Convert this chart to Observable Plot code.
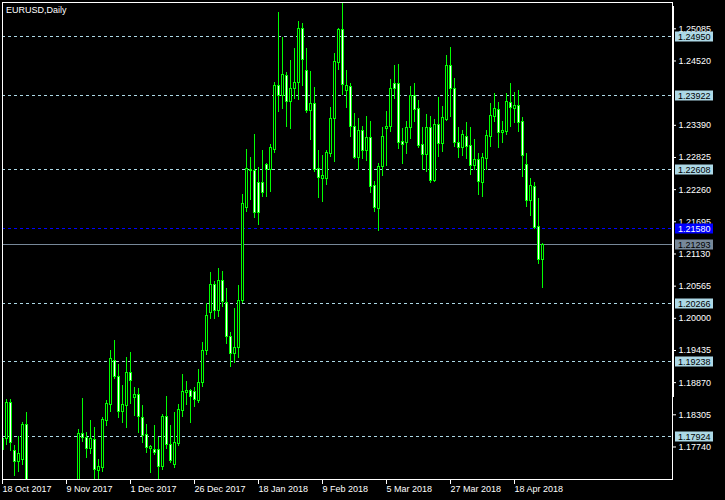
<!DOCTYPE html>
<html><head><meta charset="utf-8">
<script src="https://cdn.jsdelivr.net/npm/d3@7"></script>
<script src="https://cdn.jsdelivr.net/npm/@observablehq/plot@0.6"></script>
<style>
html,body{margin:0;padding:0;background:#000;}
#chart svg{display:block}
</style></head><body>
<div id="chart"></div>
<script>
const symbolTitle = "EURUSD,Daily";

// Daily OHLC, one bar per trading day starting 18 Oct 2017 (index 0) to 27 Apr 2018 (index 135)
const open = [1.17683,1.17877,1.18509,1.17666,1.17473,1.17508,1.18122,1.1652,1.1607,1.1648,
1.1645,1.1620,1.1660,1.1607,1.1609,1.1586,1.1592,1.1646,1.1665,1.1664,
1.17964,1.17894,1.17701,1.17859,1.17314,1.17367,1.18193,1.18474,1.19247,1.18966,
1.18351,1.18456,1.19036,1.18597,1.18649,1.18245,1.17947,1.17701,1.17683,1.17683,
1.17385,1.18263,1.17771,1.17420,1.17789,1.18368,1.18685,1.18720,1.18702,1.18544,
1.18860,1.19422,1.20090,1.20582,1.20125,1.20652,1.20265,1.19668,1.19370,1.19475,
1.20301,1.21934,1.22601,1.22584,1.22373,1.22373,1.22689,1.22601,1.22953,1.24077,
1.23901,1.24253,1.23796,1.24024,1.24130,1.25078,1.24340,1.23638,1.23761,1.22619,
1.22443,1.22443,1.22883,1.23497,1.24481,1.25061,1.23989,1.24059,1.23357,1.22812,
1.23287,1.22935,1.23164,1.22320,1.21917,1.22654,1.23322,1.23357,1.24112,1.24112,
1.23093,1.23076,1.23339,1.23901,1.23673,1.23041,1.22865,1.23339,1.22408,1.23392,
1.23058,1.23480,1.24428,1.24024,1.23076,1.22988,1.23181,1.23023,1.22672,1.22777,
1.22373,1.22795,1.23181,1.23532,1.23655,1.23251,1.23269,1.23778,1.23673,1.23726,
1.23445,1.22689,1.22057,1.22303,1.21600,1.21021];
const high = [1.17894,1.18579,1.18579,1.17771,1.17929,1.18175,1.18351,1.1665,1.1666,1.1669,
1.1659,1.1688,1.1679,1.1611,1.1616,1.1610,1.1658,1.1669,1.1670,1.18052,
1.18597,1.17999,1.18210,1.18087,1.17525,1.18263,1.18562,1.19440,1.19615,1.19194,
1.18825,1.19317,1.19405,1.18790,1.18772,1.18474,1.18140,1.17771,1.18122,1.17912,
1.18316,1.18632,1.18122,1.18351,1.18491,1.19018,1.18895,1.18755,1.18790,1.19106,
1.19580,1.20265,1.20810,1.20652,1.20880,1.20828,1.20529,1.19756,1.20178,1.20582,
1.22180,1.22970,1.22830,1.23234,1.22654,1.22953,1.22725,1.23058,1.24147,1.25377,
1.24938,1.24323,1.24534,1.24744,1.25219,1.25184,1.24744,1.24340,1.24059,1.22953,
1.22865,1.22953,1.23708,1.24657,1.25096,1.25552,1.24358,1.24130,1.23603,1.23515,
1.23374,1.23550,1.23462,1.22408,1.22725,1.23357,1.23638,1.24200,1.24446,1.24463,
1.23339,1.23462,1.24077,1.24130,1.23831,1.23357,1.23585,1.23550,1.23497,1.23884,
1.23726,1.24622,1.24762,1.24217,1.23357,1.23304,1.23445,1.23357,1.23146,1.22900,
1.22900,1.23304,1.23778,1.23954,1.23796,1.23462,1.23954,1.24130,1.23972,1.24007,
1.23532,1.22900,1.22461,1.22391,1.22110,1.21319];
const low = [1.17648,1.17771,1.17666,1.17227,1.17297,1.17420,1.1650,1.1574,1.1601,1.1629,
1.1603,1.1619,1.1603,1.1555,1.1553,1.1576,1.1583,1.1634,1.1630,1.1651,
1.17824,1.17543,1.17613,1.1715,1.1712,1.17297,1.18105,1.18351,1.18930,1.18245,
1.18158,1.18070,1.18491,1.18281,1.17982,1.17806,1.17631,1.17279,1.17596,1.17174,
1.17332,1.17701,1.17455,1.17367,1.17754,1.18263,1.18474,1.18158,1.18439,1.18509,
1.18790,1.19352,1.19984,1.19984,1.20020,1.20195,1.19545,1.19141,1.19211,1.19299,
1.20265,1.21864,1.22075,1.21758,1.21635,1.22127,1.22127,1.22215,1.22900,1.23620,
1.23673,1.23357,1.23322,1.23849,1.23831,1.24077,1.23603,1.23129,1.22566,1.22110,
1.22039,1.22338,1.22830,1.22742,1.24358,1.23919,1.23691,1.23181,1.22795,1.22601,
1.22795,1.22760,1.22198,1.21864,1.21530,1.22496,1.22672,1.23269,1.23849,1.22970,
1.22707,1.22883,1.23146,1.23445,1.22988,1.22601,1.22566,1.22373,1.22391,1.22830,
1.22918,1.23462,1.23532,1.23006,1.22812,1.22847,1.22795,1.22514,1.22601,1.22162,
1.22127,1.22601,1.23006,1.23445,1.22988,1.23076,1.23216,1.23357,1.23427,1.23269,
1.22479,1.21952,1.21794,1.21565,1.20950,1.20529];
const close = [1.17877,1.18509,1.17806,1.17473,1.17613,1.18122,1.1655,1.1608,1.1648,1.1645,
1.1620,1.1659,1.1608,1.1608,1.1586,1.1592,1.1646,1.1664,1.1664,1.17964,
1.17894,1.17701,1.17877,1.17332,1.17385,1.18210,1.18491,1.19282,1.18966,1.18351,
1.18474,1.19036,1.18895,1.18649,1.18263,1.17929,1.17718,1.17736,1.17631,1.17385,
1.18263,1.17771,1.17490,1.17806,1.18386,1.18702,1.18720,1.18614,1.18562,1.18860,
1.19422,1.20037,1.20582,1.20125,1.20652,1.20283,1.19668,1.19370,1.19475,1.20301,
1.22004,1.22619,1.22584,1.21846,1.21846,1.22198,1.22601,1.22988,1.24077,1.23901,
1.24270,1.23796,1.24024,1.24130,1.25078,1.24534,1.23638,1.23761,1.22601,1.22461,
1.22496,1.22900,1.23497,1.24499,1.25061,1.24095,1.24077,1.23357,1.22812,1.23287,
1.22935,1.23164,1.22303,1.21934,1.22654,1.23181,1.23357,1.24024,1.24024,1.23076,
1.23041,1.23339,1.23901,1.23655,1.23023,1.22865,1.23339,1.22408,1.23392,1.23058,
1.23515,1.24428,1.24024,1.23076,1.22988,1.23216,1.23006,1.22672,1.22777,1.22391,
1.22812,1.23199,1.23550,1.23673,1.23251,1.23287,1.23796,1.23691,1.23726,1.23427,
1.22847,1.22057,1.22320,1.21583,1.21021,1.21293];

const dateTickIndex = [0,16,32,48,64,80,96,112,128];
const dateTickLabels = ["18 Oct 2017","9 Nov 2017","1 Dec 2017","26 Dec 2017","18 Jan 2018","9 Feb 2018","5 Mar 2018","27 Mar 2018","18 Apr 2018"];
const priceTicks = [1.25085,1.24520,1.23390,1.22825,1.22260,1.21695,1.21130,1.20565,1.20000,1.19435,1.18870,1.18305,1.17740];
const levels = [1.24950,1.23922,1.22608,1.20266,1.19238,1.17924];
const alertLevel = 1.21580;
const lastPrice = 1.21293;

const bars = open.map((o, i) => ({i, o, h: high[i], l: low[i], c: close[i]}));
const FONT = "'Liberation Sans', Arial, sans-serif";
const GREEN = "#00ff00";

const chart = Plot.plot({
  width: 725,
  height: 500,
  marginLeft: 2,
  marginTop: 2,
  marginRight: 53,
  marginBottom: 21,
  style: {background: "#000", color: "#fff", fontFamily: FONT, fontSize: "9px"},
  x: {type: "linear", domain: [0, 135], range: [2, 542], label: null},
  y: {type: "linear", domain: [1.17924, 1.24950], range: [436, 36], label: null},
  marks: [
    Plot.ruleY(levels, {stroke: "#add8e6", strokeDasharray: "3,3", shapeRendering: "crispEdges"}),
    Plot.ruleY([alertLevel], {stroke: "#0000ff", strokeDasharray: "3,3", shapeRendering: "crispEdges"}),
    Plot.ruleY([lastPrice], {stroke: "#778899", shapeRendering: "crispEdges"}),
    Plot.ruleX(bars, {x: "i", y1: "l", y2: "h", stroke: GREEN, clip: true, shapeRendering: "crispEdges"}),
    Plot.rect(bars.filter(d => d.c >= d.o), {x1: d => d.i - 0.25, x2: d => d.i + 0.25, y1: "o", y2: "c", fill: "#000", stroke: GREEN, clip: true, shapeRendering: "crispEdges"}),
    Plot.rect(bars.filter(d => d.c < d.o), {x1: d => d.i - 0.25, x2: d => d.i + 0.25, y1: "o", y2: "c", fill: "#fff", stroke: GREEN, clip: true, shapeRendering: "crispEdges"}),
    Plot.frame({stroke: "#fff", shapeRendering: "crispEdges"}),
    Plot.axisY(priceTicks, {anchor: "right", tickSize: 3, tickPadding: 3, tickFormat: d3.format(".5f"), label: null, fontSize: 9, fill: "#fff", stroke: "#fff"}),
    Plot.axisX(dateTickIndex, {anchor: "bottom", tickSize: 5, tickPadding: 1, tickFormat: d => dateTickLabels[dateTickIndex.indexOf(d)], textAnchor: "start", label: null, fontSize: 9, fill: "#fff", stroke: "#fff"}),
    Plot.text([symbolTitle], {frameAnchor: "top-left", dx: 3.5, dy: 4.5, textAnchor: "start", lineAnchor: "top", fill: "#fff", fontSize: 9})
  ]
});
document.getElementById("chart").append(chart);

// price-level label boxes on the right scale
const ys = chart.scale("y");
const svg = d3.select(chart);
const axisX = 725 - 53;
// scroll indicator on the right edge
svg.append("rect").attr("x", axisX).attr("y", 6).attr("width", 2).attr("height", 391).attr("fill", "#fff");
const boxes = [
  ...levels.map(v => ({v, bg: "#add8e6", fg: "#000"})),
  {v: alertLevel, bg: "#0000ff", fg: "#fff"},
  {v: lastPrice, bg: "#778899", fg: "#000"}
];
const g = svg.append("g").attr("font-family", FONT).attr("font-size", 9).attr("text-anchor", "start");
for (const b of boxes) {
  const yy = Math.round(ys.apply(b.v)) + 0.5;
  g.append("rect").attr("x", axisX + 3).attr("y", yy - 5).attr("width", 38).attr("height", 10).attr("fill", b.bg);
  g.append("text").attr("x", axisX + 6).attr("y", yy).attr("dy", "0.35em").attr("fill", b.fg).text(d3.format(".5f")(b.v));
}
</script>
</body></html>
